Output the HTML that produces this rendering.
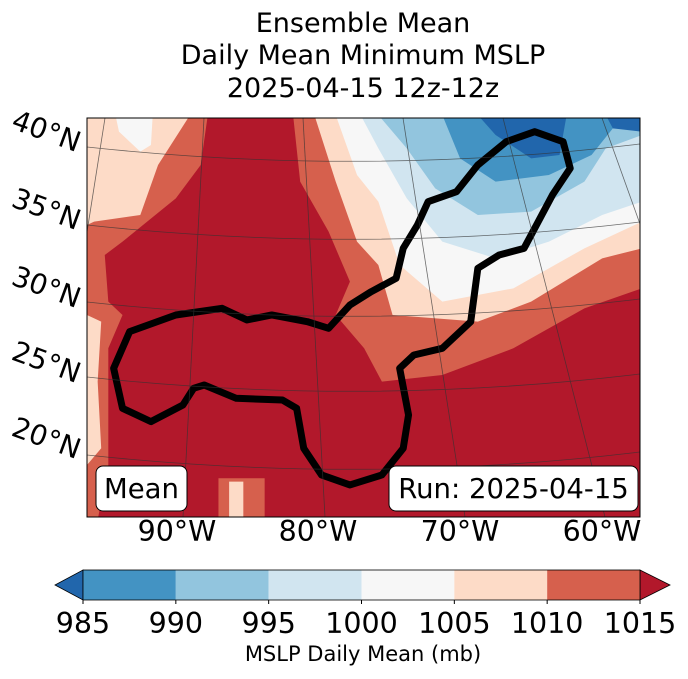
<!DOCTYPE html>
<html><head><meta charset="utf-8"><style>
body{margin:0;background:#fff;width:688px;height:674px;overflow:hidden;font-family:"Liberation Sans","DejaVu Sans",sans-serif}
</style></head><body>
<svg id="s" width="688" height="674" viewBox="0 0 688 674" xmlns="http://www.w3.org/2000/svg" font-family="'DejaVu Sans','Liberation Sans',sans-serif">
<g font-size="27" text-anchor="middle" fill="#000">
<text x="363" y="32">Ensemble Mean</text>
<text x="363" y="64">Daily Mean Minimum MSLP</text>
<text x="363" y="97">2025-04-15 12z-12z</text>
</g>
<defs><clipPath id="cp"><rect x="87" y="118" width="553" height="399"/></clipPath></defs>
<g clip-path="url(#cp)">
<rect x="87" y="118" width="553" height="399" fill="#b2182b"/>
<g transform="translate(87,115) scale(0.3553,0.3333)">
<polygon fill="#d6604d" points="0,0 340,0 320,150 250,250 100,380 50,420 60,560 100,600 60,700 60,900 60,1050 30,1215 0,1215"/>
<polygon fill="#fddbc7" points="0,0 290,0 200,150 150,300 20,320 0,330"/>
<polygon fill="#fddbc7" points="0,600 40,620 30,800 40,1000 0,1050"/>
<polygon fill="#f7f7f7" points="80,0 185,0 180,90 150,110 90,50"/>
<polygon fill="#d6604d" points="580,0 1562,0 1562,520 1400,580 1200,700 1000,780 830,800 780,700 700,600 740,500 680,350 600,200"/>
<polygon fill="#fddbc7" points="640,0 1562,0 1562,400 1450,430 1250,560 1100,620 860,600 820,450 760,380 700,200"/>
<polygon fill="#f7f7f7" points="700,0 1562,0 1562,320 1400,400 1200,520 1000,560 880,450 820,260 760,180"/>
<polygon fill="#d1e5f0" points="770,0 1562,0 1562,260 1450,300 1300,380 1150,430 1000,380 900,250 820,100"/>
<polygon fill="#92c5de" points="820,0 1562,0 1562,60 1460,100 1400,200 1250,290 1100,300 980,220 900,100"/>
<polygon fill="#4393c3" points="1000,0 1562,0 1562,30 1480,40 1420,120 1300,180 1150,200 1050,130"/>
<polygon fill="#2166ac" points="1100,0 1350,0 1330,120 1250,130 1150,60"/>
<polygon fill="#2166ac" points="1460,0 1562,0 1562,50 1480,40"/>
<polygon fill="#d6604d" points="370,1090 500,1090 500,1215 370,1215"/>
<polygon fill="#fddbc7" points="400,1100 440,1100 440,1215 400,1215"/>
<path fill="none" stroke="#000" stroke-width="7" stroke-linejoin="round" vector-effect="non-scaling-stroke" d="M680,640 L620,620 L520,600 L450,615 L380,580 L250,600 L120,650 L75,760 L100,880 L180,920 L270,870 L300,820 L330,810 L420,850 L550,855 L590,880 L610,1000 L660,1080 L740,1110 L830,1080 L890,1000 L905,900 L880,760 L920,720 L1000,700 L1080,620 L1100,460 L1160,420 L1230,400 L1280,300 L1310,240 L1360,160 L1340,80 L1260,50 L1180,80 L1100,150 L1040,230 L960,260 L930,330 L890,400 L870,490 L800,530 L740,570 Z"/>
</g>
<g fill="none" stroke="#333" stroke-width="0.8" opacity="0.7">
<path d="M87,147 Q365,177 640,144"/>
<path d="M87,225 Q365,255 640,222"/>
<path d="M87,302 Q365,332 640,299"/>
<path d="M87,377 Q365,407 640,374"/>
<path d="M87,455 Q365,485 640,452"/>
<path d="M105,118 L42,517"/><path d="M204,118 L183,517"/><path d="M303,118 L325,517"/><path d="M403,118 L465,517"/><path d="M503,118 L605,517"/><path d="M602,118 L745,517"/>
</g>
<g>
<rect x="96" y="466" width="91" height="45" rx="7" fill="#fff" stroke="#000" stroke-width="1"/>
<text x="141.5" y="498" font-size="27.5" text-anchor="middle">Mean</text>
</g>
<g>
<rect x="389" y="466" width="249" height="45" rx="7" fill="#fff" stroke="#000" stroke-width="1"/>
<text x="513.5" y="498" font-size="27.5" text-anchor="middle">Run: 2025-04-15</text>
</g>
</g>
<rect x="87" y="118" width="553" height="399" fill="none" stroke="#000" stroke-width="1"/>
<g font-size="28">
<text transform="translate(10,128) rotate(20)">40°N</text>
<text transform="translate(10,206) rotate(20)">35°N</text>
<text transform="translate(10,284) rotate(20)">30°N</text>
<text transform="translate(10,359) rotate(20)">25°N</text>
<text transform="translate(10,435) rotate(20)">20°N</text>
</g>
<g font-size="28.5" text-anchor="middle">
<text x="177" y="541">90°W</text><text x="318" y="541">80°W</text><text x="460" y="541">70°W</text><text x="602" y="541">60°W</text>
</g>
<g id="cb"></g>
<text x="363" y="661" font-size="21" text-anchor="middle">MSLP Daily Mean (mb)</text>
</svg>
<script>
const levels=[985,990,995,1000,1005,1010,1015];
const colors=['#4393c3','#92c5de','#d1e5f0','#f7f7f7','#fddbc7','#d6604d'];
const underColor='#2166ac', overColor='#b2182b';
const NS='http://www.w3.org/2000/svg';
const cb=document.getElementById('cb');
const x0=83,x1=640,y0=570,h=30;
const sx=v=>x0+(v-levels[0])/(levels[levels.length-1]-levels[0])*(x1-x0);
function mk(t,a){const e=document.createElementNS(NS,t);for(const k in a)e.setAttribute(k,a[k]);cb.appendChild(e);return e;}
let tri=mk('polygon',{points:`${x0},${y0} ${x0},${y0+h} 55,${y0+h/2}`,fill:underColor,stroke:'#000','stroke-width':0.8});


tri=mk('polygon',{points:`${x1},${y0} ${x1},${y0+h} 670,${y0+h/2}`,fill:overColor,stroke:'#000','stroke-width':0.8});


for(let i=0;i<colors.length;i++){
 const r=mk('rect',{x:sx(levels[i]),y:y0,width:sx(levels[i+1])-sx(levels[i]),height:h,fill:colors[i]});
 
 
}
mk('rect',{x:x0,y:y0,width:x1-x0,height:h,fill:'none',stroke:'#000','stroke-width':0.8});
levels.forEach(v=>{
 mk('line',{x1:sx(v),x2:sx(v),y1:y0+h,y2:y0+h+4,stroke:'#000'});
 const t=mk('text',{x:sx(v),y:633,'font-size':28.5,'text-anchor':'middle'});
 t.textContent=v;
 
 
});
</script>
</body></html>
